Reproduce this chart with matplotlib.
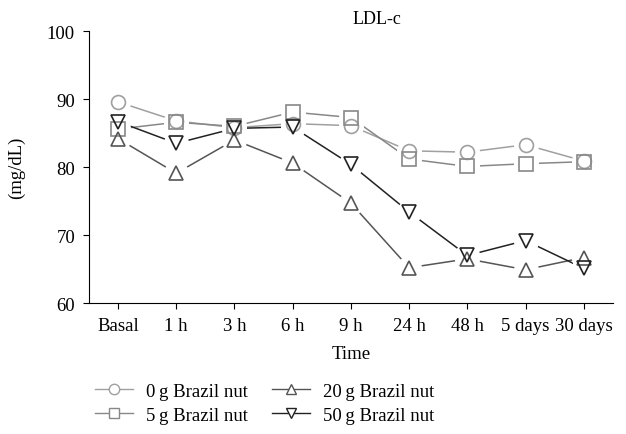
import numpy as np
import matplotlib.pyplot as plt
from matplotlib.lines import Line2D

plt.rcParams['font.family'] = ['Liberation Serif', 'DejaVu Serif']

times = ['Basal', '1 h', '3 h', '6 h', '9 h', '24 h', '48 h', '5 days', '30 days']
g0 = [89.6, 86.8, 85.8, 86.4, 86.1, 82.4, 82.2, 83.3, 80.9]
g5 = [85.6, 86.6, 86.0, 88.1, 87.3, 81.2, 80.1, 80.5, 80.8]
g20 = [84.2, 79.1, 84.0, 80.6, 74.7, 65.2, 66.5, 64.9, 66.7]
g50 = [86.7, 83.5, 85.7, 85.9, 80.4, 73.4, 67.0, 69.2, 65.1]

series = [
    ('0\u2009g Brazil nut', g0, 'o', '#a0a0a0'),
    ('5\u2009g Brazil nut', g5, 's', '#888888'),
    ('20\u2009g Brazil nut', g20, '^', '#555555'),
    ('50\u2009g Brazil nut', g50, 'v', '#222222'),
]

fs = 13.5
fig = plt.figure(figsize=(6.26, 4.35), dpi=100)
ax = fig.add_axes([0.142, 0.301, 0.837, 0.625])
x = np.arange(len(times))

# lines first, then white halos so lines stop short of the markers, then markers
for name, vals, m, c in series:
    ax.plot(x, vals, color=c, lw=1.1, zorder=2)
for name, vals, m, c in series:
    ax.plot(x, vals, ls='none', marker='o', ms=17, mfc='white', mec='white', zorder=3)
for name, vals, m, c in series:
    ax.plot(x, vals, ls='none', marker=m, ms=10, mfc='none', mec=c, mew=1.2, zorder=4)

ax.set_xlim(-0.5, 8.5)
ax.set_ylim(60, 100)
ax.set_yticks([60, 70, 80, 90, 100])
ax.set_xticks(x)
ax.set_xticklabels(times)
ax.spines['top'].set_visible(False)
ax.spines['right'].set_visible(False)
ax.tick_params(labelsize=fs, direction='out', length=4, pad=6)
ax.set_title('LDL-c', fontsize=13, pad=6, x=0.55)
ax.set_ylabel('(mg/dL)', fontsize=fs, labelpad=16)
ax.set_xlabel('Time', fontsize=fs, labelpad=8)

handles = [Line2D([], [], color=c, lw=1.0, marker=m, ms=7.5, mfc='white', mec=c, mew=1.0)
           for name, vals, m, c in series]
labels = [s[0] for s in series]
fig.legend(handles, labels, loc='upper left', bbox_to_anchor=(0.14, 0.135), ncol=2,
           frameon=False, fontsize=fs, handlelength=2.0, columnspacing=1.3,
           labelspacing=0.35, handletextpad=0.7, borderaxespad=0)

fig.savefig('out.png', dpi=100)
